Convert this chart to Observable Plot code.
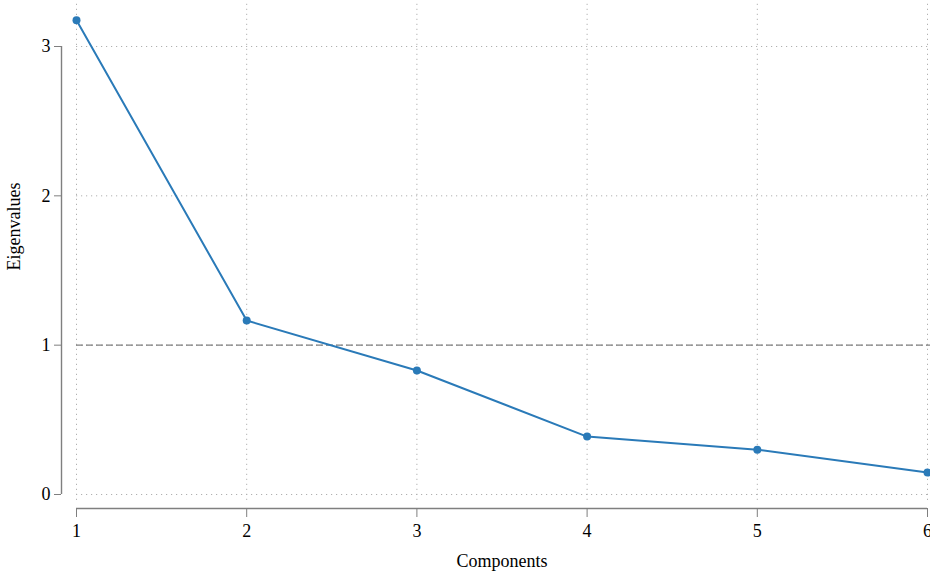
<!DOCTYPE html>
<html>
<head>
<meta charset="utf-8">
<script src="https://cdn.jsdelivr.net/npm/d3@7"></script>
<script src="https://cdn.jsdelivr.net/npm/@observablehq/plot@0.6"></script>
<style>
  body { margin: 0; background: #fff; }
  #chart svg { display: block; }
</style>
</head>
<body>
<div id="chart"></div>
<script>
const components = [1, 2, 3, 4, 5, 6];
const eigenvalues = [3.175, 1.165, 0.83, 0.388, 0.30, 0.147];
const xTicks = [1, 2, 3, 4, 5, 6];
const yTicks = [0, 1, 2, 3];
const threshold = 1;

const data = components.map((c, i) => ({component: c, eigen: eigenvalues[i]}));
const axisColor = "#7f7f7f";

const chart = Plot.plot({
  width: 930,
  height: 572,
  marginLeft: 76,
  marginRight: 3,
  marginTop: 46,
  marginBottom: 78,
  style: {fontFamily: "'Liberation Serif', 'DejaVu Serif', serif", fontSize: "18px", background: "#fff"},
  x: {domain: [1, 6]},
  y: {domain: [0, 3]},
  marks: [
    // vertical dotted grid
    Plot.ruleX(xTicks, {y1: -0.04, y2: 3.3, stroke: "#b0b0b0", strokeDasharray: "1.2,3.8", strokeWidth: 1}),
    // horizontal dotted grid
    Plot.ruleY(yTicks, {x1: 1, x2: 6.05, stroke: "#b0b0b0", strokeDasharray: "1.2,3.8", strokeWidth: 1}),
    // threshold line
    Plot.ruleY([threshold], {x1: 1, x2: 6.05, stroke: "#7f7f7f", strokeDasharray: "7,3", strokeWidth: 1.4}),
    // y axis spine
    Plot.ruleX([1], {y1: 0, y2: 3, dx: -15, stroke: axisColor, strokeWidth: 1.4}),
    // x axis spine
    Plot.ruleY([0], {x1: 1, x2: 6, dy: 14, stroke: axisColor, strokeWidth: 1.4}),
    Plot.axisY(yTicks, {anchor: "left", dx: -15, tickSize: 7, tickPadding: 4, stroke: axisColor, fill: "#000", fontSize: 18, label: null, tickFormat: d3.format("d")}),
    Plot.axisX(xTicks, {anchor: "bottom", dy: 14, tickSize: 9, tickPadding: 7, stroke: axisColor, fill: "#000", fontSize: 18, label: null, tickFormat: d3.format("d")}),
    Plot.line(data, {x: "component", y: "eigen", stroke: "#2a7ab8", strokeWidth: 2}),
    Plot.dot(data, {x: "component", y: "eigen", fill: "#2a7ab8", r: 4}),
    Plot.text(["Components"], {frameAnchor: "bottom", dy: 72, fill: "#000", fontSize: 18, lineAnchor: "bottom"}),
    Plot.text(["Eigenvalues"], {frameAnchor: "left", dx: -62, rotate: -90, fill: "#000", fontSize: 18})
  ]
});
document.getElementById("chart").appendChild(chart);
</script>
</body>
</html>
